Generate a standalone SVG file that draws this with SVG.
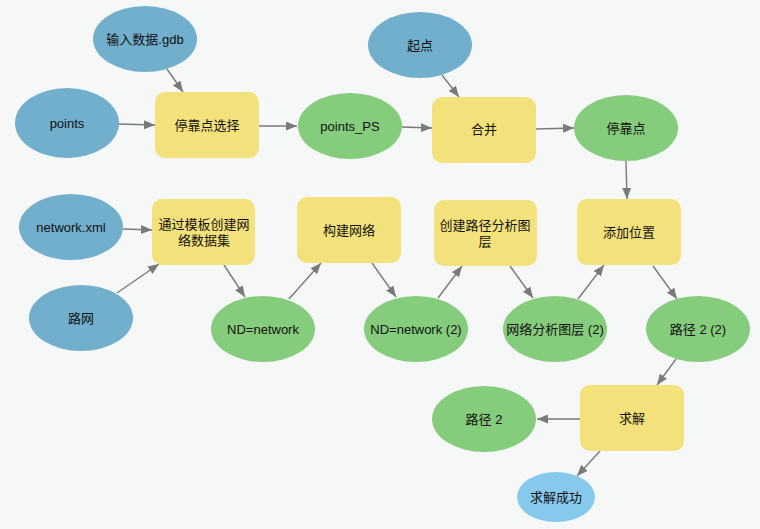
<svg xmlns="http://www.w3.org/2000/svg" width="760" height="529" viewBox="0 0 760 529">
<style>
.bg{fill:#f6f8f8}
.in{fill:#71afcd}
.out{fill:#85cc7c}
.tool{fill:#f3e27b}
.flag{fill:#87c9ed}
text{font-family:"Liberation Sans","Noto Sans CJK SC",sans-serif;font-size:13px;fill:#111;text-anchor:middle}
.conn line{stroke:#7a7a7a;stroke-width:1.4;marker-end:url(#arr)}
</style>
<defs>
<marker id="arr" markerUnits="userSpaceOnUse" markerWidth="12" markerHeight="10" refX="11" refY="4.5" orient="auto">
<path d="M0,0 L11,4.5 L0,9 z" fill="#7a7a7a"/>
</marker>
</defs>
<rect class="bg" x="0" y="0" width="760" height="529"/>
<g id="connectors" class="conn">
<line x1="167" y1="69" x2="183" y2="92"/>
<line x1="118" y1="124" x2="155" y2="125"/>
<line x1="259" y1="126" x2="297" y2="126"/>
<line x1="442" y1="75" x2="459" y2="97"/>
<line x1="402" y1="127" x2="432" y2="128"/>
<line x1="536" y1="129" x2="574" y2="128"/>
<line x1="626" y1="161" x2="627" y2="199"/>
<line x1="123" y1="229" x2="152" y2="230"/>
<line x1="117" y1="293" x2="159" y2="264"/>
<line x1="224" y1="265" x2="245" y2="297"/>
<line x1="289" y1="299" x2="321" y2="263"/>
<line x1="372" y1="263" x2="396" y2="297"/>
<line x1="438" y1="298" x2="462" y2="266"/>
<line x1="510" y1="266" x2="533" y2="298"/>
<line x1="578" y1="299" x2="604" y2="265"/>
<line x1="653" y1="266" x2="677" y2="299"/>
<line x1="676" y1="359" x2="657" y2="385"/>
<line x1="580" y1="419" x2="537" y2="419"/>
<line x1="600" y1="451" x2="577" y2="476"/>
</g>
<g id="n_gdb"><ellipse class="in" cx="145" cy="39" rx="52" ry="33"/><text x="145" y="44">输入数据.gdb</text></g>
<g id="n_points"><ellipse class="in" cx="67" cy="123" rx="52" ry="35"/><text x="67" y="128">points</text></g>
<g id="n_select"><rect class="tool" x="155" y="92" width="104" height="66" rx="10"/><text x="207" y="130">停靠点选择</text></g>
<g id="n_points_ps"><ellipse class="out" cx="350" cy="126" rx="52" ry="33"/><text x="350" y="131">points_PS</text></g>
<g id="n_start"><ellipse class="in" cx="420" cy="45" rx="52" ry="33"/><text x="420" y="50">起点</text></g>
<g id="n_merge"><rect class="tool" x="432" y="97" width="104" height="66" rx="10"/><text x="484" y="134">合并</text></g>
<g id="n_stops"><ellipse class="out" cx="626" cy="128" rx="52" ry="33"/><text x="626" y="133">停靠点</text></g>
<g id="n_xml"><ellipse class="in" cx="71" cy="227" rx="52" ry="33"/><text x="71" y="232">network.xml</text></g>
<g id="n_roads"><ellipse class="in" cx="81" cy="318" rx="52" ry="33"/><text x="81" y="323">路网</text></g>
<g id="n_create_nd"><rect class="tool" x="152" y="199" width="103" height="66" rx="10"/><text x="204" y="229">通过模板创建网</text><text x="204" y="245">络数据集</text></g>
<g id="n_nd"><ellipse class="out" cx="263" cy="329" rx="52" ry="33"/><text x="263" y="334">ND=network</text></g>
<g id="n_build"><rect class="tool" x="297" y="197" width="104" height="66" rx="10"/><text x="349" y="235">构建网络</text></g>
<g id="n_nd2"><ellipse class="out" cx="416" cy="329" rx="52" ry="33"/><text x="416" y="334">ND=network (2)</text></g>
<g id="n_route_layer"><rect class="tool" x="434" y="200" width="103" height="66" rx="10"/><text x="485" y="230">创建路径分析图</text><text x="485" y="246">层</text></g>
<g id="n_na_layer"><ellipse class="out" cx="555" cy="329" rx="52" ry="33"/><text x="555" y="334">网络分析图层 (2)</text></g>
<g id="n_add_loc"><rect class="tool" x="577" y="199" width="104" height="66" rx="10"/><text x="629" y="237">添加位置</text></g>
<g id="n_route22"><ellipse class="out" cx="698" cy="329" rx="52" ry="33"/><text x="698" y="334">路径 2 (2)</text></g>
<g id="n_solve"><rect class="tool" x="580" y="385" width="104" height="66" rx="10"/><text x="632" y="423">求解</text></g>
<g id="n_route2"><ellipse class="out" cx="484" cy="419" rx="52" ry="33"/><text x="484" y="424">路径 2</text></g>
<g id="n_success"><ellipse class="flag" cx="556" cy="497" rx="39" ry="25"/><text x="556" y="502">求解成功</text></g>
</svg>
